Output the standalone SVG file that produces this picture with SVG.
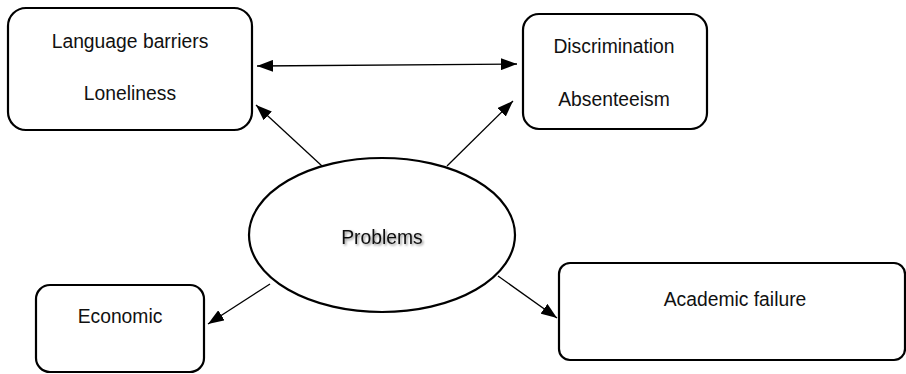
<svg xmlns="http://www.w3.org/2000/svg" width="906" height="374" viewBox="0 0 906 374">
  <style>
    .box { fill: #ffffff; stroke: #000000; stroke-width: 2.2; }
    .lbl { font-family: "Liberation Sans", Arial, sans-serif; font-size: 21px; fill: #111111; text-anchor: middle; transform-box: fill-box; transform-origin: center; transform: scaleX(0.92); }
    .conn { stroke: #000000; stroke-width: 1.3; fill: none; marker-end: url(#arrow); }
  </style>
  <defs>
    <marker id="arrow" viewBox="0 0 16 12" refX="16" refY="6" markerWidth="16" markerHeight="12" markerUnits="userSpaceOnUse" orient="auto-start-reverse">
      <path d="M0,0 L16,6 L0,12 Z" fill="#000000"/>
    </marker>
    <filter id="shadow" x="-20%" y="-40%" width="140%" height="180%">
      <feDropShadow dx="1.5" dy="1.5" stdDeviation="1" flood-color="#000000" flood-opacity="0.45"/>
    </filter>
  </defs>

  <g id="connectors">
    <line class="conn" x1="257" y1="66" x2="517" y2="64" marker-start="url(#arrow)"/>
    <line class="conn" x1="322" y1="166" x2="256" y2="105"/>
    <line class="conn" x1="447" y1="166" x2="513" y2="101"/>
    <line class="conn" x1="270" y1="284" x2="208" y2="324"/>
    <line class="conn" x1="498" y1="276" x2="557" y2="318"/>
  </g>

  <g id="node-language">
    <rect class="box" x="8" y="8" width="244" height="122" rx="18" ry="18"/>
    <text class="lbl" x="130" y="48">Language barriers</text>
    <text class="lbl" x="130" y="100">Loneliness</text>
  </g>

  <g id="node-discrimination">
    <rect class="box" x="523" y="14" width="184" height="115" rx="16" ry="16"/>
    <text class="lbl" x="614" y="53">Discrimination</text>
    <text class="lbl" x="614" y="106">Absenteeism</text>
  </g>

  <g id="node-problems">
    <ellipse class="box" cx="382" cy="235" rx="133" ry="77"/>
    <text class="lbl" x="382" y="244" filter="url(#shadow)">Problems</text>
  </g>

  <g id="node-economic">
    <rect class="box" x="36" y="285" width="168" height="87" rx="14" ry="14"/>
    <text class="lbl" x="120" y="323">Economic</text>
  </g>

  <g id="node-academic">
    <rect class="box" x="559" y="263" width="346" height="97" rx="11" ry="11"/>
    <text class="lbl" x="735" y="306">Academic failure</text>
  </g>
</svg>
